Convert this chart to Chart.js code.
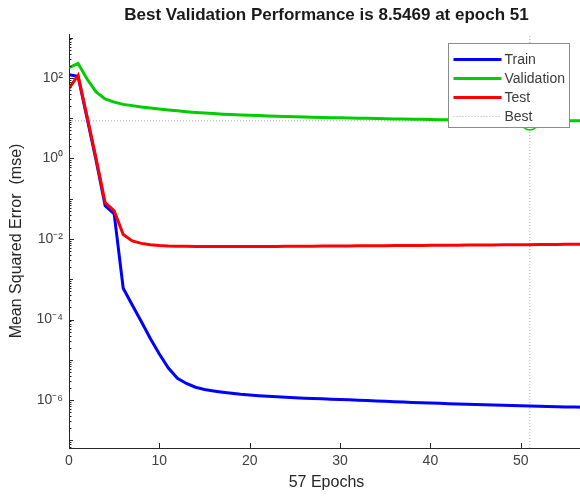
<!DOCTYPE html>
<html>
<head>
<meta charset="utf-8">
<script src="https://cdn.jsdelivr.net/npm/chart.js@4.4.1/dist/chart.umd.min.js"></script>
<style>
  html, body { margin: 0; padding: 0; background: #fff; overflow: hidden; }
</style>
</head>
<body>
<!-- canvas is a bit wider than the window: the reference figure is cut off on the right -->
<canvas id="myChart" width="584" height="496"></canvas>
<script>
// epochs and performance values
const epochs = [0,1,2,3,4,5,6,7,8,9,10,11,12,13,14,15,16,17,18,19,20,21,22,23,24,25,26,27,28,29,
  30,31,32,33,34,35,36,37,38,39,40,41,42,43,44,45,46,47,48,49,50,51,52,53,54,55,56,57];

const trainPerf = [120, 110, 10, 0.9, 0.067, 0.042, 6e-4, 2.3e-4, 9e-5, 3.4e-5,
  1.4e-5, 6.3e-6, 3.5e-6, 2.6e-6, 2.1e-6, 1.85e-6, 1.7e-6, 1.58e-6, 1.48e-6, 1.4e-6,
  1.34e-6, 1.29e-6, 1.25e-6, 1.21e-6, 1.18e-6, 1.15e-6, 1.12e-6, 1.1e-6, 1.08e-6, 1.06e-6,
  1.04e-6, 1.02e-6, 1.0e-6, 9.8e-7, 9.6e-7, 9.4e-7, 9.2e-7, 9.0e-7, 8.8e-7, 8.65e-7,
  8.5e-7, 8.35e-7, 8.2e-7, 8.05e-7, 7.9e-7, 7.8e-7, 7.7e-7, 7.6e-7, 7.5e-7, 7.4e-7,
  7.3e-7, 7.2e-7, 7.1e-7, 7.0e-7, 6.9e-7, 6.8e-7, 6.75e-7, 6.7e-7];

const valPerf = [180, 230, 94, 45, 30, 25, 22, 20.5, 19, 18,
  17, 16, 15.2, 14.5, 13.9, 13.4, 13, 12.6, 12.3, 12,
  11.8, 11.6, 11.4, 11.2, 11, 10.85, 10.7, 10.55, 10.4, 10.3,
  10.2, 10.1, 10, 9.9, 9.8, 9.7, 9.6, 9.5, 9.4, 9.35,
  9.3, 9.2, 9.15, 9.1, 9.0, 8.95, 8.9, 8.8, 8.75, 8.68,
  8.6, 8.5469, 8.56, 8.58, 8.6, 8.62, 8.63, 8.65];

const testPerf = [55, 115, 11, 1.0, 0.08, 0.05, 0.013, 0.009, 0.0078, 0.0072,
  0.0069, 0.0067, 0.0066, 0.0066, 0.0065, 0.0065, 0.0065, 0.0065, 0.0065, 0.0065,
  0.0065, 0.0065, 0.0065, 0.0065, 0.0066, 0.0066, 0.0066, 0.0066, 0.0067, 0.0067,
  0.0067, 0.0067, 0.0068, 0.0068, 0.0068, 0.0068, 0.0069, 0.0069, 0.0069, 0.0069,
  0.007, 0.007, 0.007, 0.007, 0.0071, 0.0071, 0.0071, 0.0071, 0.0072, 0.0072,
  0.0072, 0.0072, 0.0073, 0.0073, 0.0073, 0.0074, 0.0074, 0.0074];

const bestEpoch = 51;
const bestPerf = 8.5469;

const xMin = 0, xMax = 57;
const yMin = 6.5e-8, yMax = 1.23e3;
const xTickValues = [0, 10, 20, 30, 40, 50];
const yTickValues = [1e-6, 1e-4, 1e-2, 1, 1e2];
const yTickLabels = ["10\u207B\u2076", "10\u207B\u2074", "10\u207B\u00B2", "10\u2070", "10\u00B2"];
const legendOrder = ["Train", "Validation", "Test", "Best"];

const FONT = "'Liberation Sans', Arial, Helvetica, sans-serif";
const AXIS_COLOR = "#262626";

function toPoints(values) {
  return epochs.map((e, i) => ({ x: e, y: values[i] }));
}

// inward tick marks like matlab axes
const tickPlugin = {
  id: "inwardTicks",
  afterDatasetsDraw(chart) {
    const ctx = chart.ctx;
    const xs = chart.scales.x, ys = chart.scales.y;
    const area = chart.chartArea;
    ctx.save();
    ctx.strokeStyle = AXIS_COLOR;
    ctx.lineWidth = 1;
    ctx.beginPath();
    xTickValues.forEach(v => {
      const px = Math.round(xs.getPixelForValue(v)) + 0.5;
      ctx.moveTo(px, area.bottom);
      ctx.lineTo(px, area.bottom - 5);
    });
    for (let k = -8; k <= 3; k++) {
      for (let m = 1; m <= 9; m++) {
        const v = m * Math.pow(10, k);
        if (v < yMin || v > yMax) continue;
        const py = Math.round(ys.getPixelForValue(v)) + 0.5;
        const major = m === 1 && k % 2 === 0;
        const len = major ? 5 : (m === 1 ? 4 : 2.5);
        ctx.moveTo(area.left, py);
        ctx.lineTo(area.left + len, py);
      }
    }
    ctx.stroke();
    ctx.restore();
  }
};

// boxed legend inside the top right corner of the axes
const legendPlugin = {
  id: "boxLegend",
  afterDraw(chart) {
    const ctx = chart.ctx;
    const area = chart.chartArea;
    const items = legendOrder.map(name => chart.data.datasets.find(d => d.label === name && d.inLegend));
    const boxW = 121, rowH = 19, boxH = 84;
    const bx = Math.round(area.right - 136) + 0.5;
    const by = area.top + 9.5;
    ctx.save();
    ctx.fillStyle = "#fff";
    ctx.fillRect(bx, by, boxW, boxH);
    ctx.strokeStyle = "#8c8c8c";
    ctx.lineWidth = 1;
    ctx.strokeRect(bx, by, boxW, boxH);
    ctx.font = "14px " + FONT;
    ctx.textBaseline = "middle";
    items.forEach((d, i) => {
      const y = by + 16 + i * rowH;
      ctx.strokeStyle = d.borderColor;
      ctx.lineWidth = d.borderWidth;
      ctx.setLineDash(d.borderDash || []);
      ctx.beginPath();
      ctx.moveTo(bx + 5, y);
      ctx.lineTo(bx + 53, y);
      ctx.stroke();
      ctx.setLineDash([]);
      ctx.fillStyle = "#3a3a3a";
      ctx.fillText(d.label, bx + 56, y + 1);
    });
    ctx.restore();
  }
};

const ctx = document.getElementById("myChart").getContext("2d");
new Chart(ctx, {
  type: "line",
  data: {
    datasets: [
      { label: "Best", data: [{ x: bestEpoch, y: bestPerf }], showLine: false,
        pointRadius: 9, pointBorderColor: "#00c800", pointBackgroundColor: "rgba(0,0,0,0)",
        pointBorderWidth: 1.5, borderColor: "#00c800", order: 0 },
      { label: "Validation", data: toPoints(valPerf), borderColor: "#00cc00", borderWidth: 3,
        pointRadius: 0, inLegend: true, order: 1 },
      { label: "Test", data: toPoints(testPerf), borderColor: "#ff0000", borderWidth: 3,
        pointRadius: 0, inLegend: true, order: 2 },
      { label: "Train", data: toPoints(trainPerf), borderColor: "#0000ff", borderWidth: 3,
        pointRadius: 0, inLegend: true, order: 3 },
      { label: "Best", data: [{ x: xMin, y: bestPerf }, { x: xMax, y: bestPerf }],
        borderColor: "#a6a6a6", borderWidth: 1, borderDash: [1, 2], pointRadius: 0,
        inLegend: true, order: 4 },
      { label: "Best", data: [{ x: bestEpoch, y: yMin }, { x: bestEpoch, y: yMax }],
        borderColor: "#a6a6a6", borderWidth: 1, borderDash: [1, 2], pointRadius: 0, order: 4 }
    ]
  },
  options: {
    responsive: false,
    animation: false,
    layout: { padding: 0, autoPadding: false },
    plugins: {
      legend: { display: false },
      tooltip: { enabled: false },
      title: {
        display: true,
        fullSize: false,
        text: "Best Validation Performance is 8.5469 at epoch 51",
        color: "#1a1a1a",
        font: { family: FONT, size: 17, weight: "bold" },
        padding: { top: 5, bottom: 8.6 }
      }
    },
    scales: {
      x: {
        type: "linear",
        min: xMin,
        max: xMax,
        afterBuildTicks: s => { s.ticks = xTickValues.map(v => ({ value: v })); },
        afterFit: s => { s.height = 48; s.paddingLeft = 0; s.paddingRight = 0; },
        grid: { display: false, drawTicks: false },
        border: { color: AXIS_COLOR, width: 1 },
        ticks: { color: "#404040", font: { family: FONT, size: 14 }, padding: 5, maxRotation: 0 },
        title: { display: true, text: "57 Epochs", color: "#262626",
          font: { family: FONT, size: 16 }, padding: { top: 0, bottom: 4 } }
      },
      y: {
        type: "logarithmic",
        min: yMin,
        max: yMax,
        afterBuildTicks: s => { s.ticks = yTickValues.map(v => ({ value: v })); },
        afterFit: s => { s.width = 69; s.paddingTop = 0; s.paddingBottom = 0; },
        grid: { display: false, drawTicks: false },
        border: { color: AXIS_COLOR, width: 1 },
        ticks: {
          color: "#404040",
          font: { family: FONT, size: 14 },
          padding: 6,
          callback: v => yTickLabels[yTickValues.indexOf(v)]
        },
        title: { display: true, text: "Mean Squared Error  (mse)", color: "#262626",
          font: { family: FONT, size: 16 }, padding: { top: 7, bottom: 0 } }
      }
    }
  },
  plugins: [tickPlugin, legendPlugin]
});
</script>
</body>
</html>
